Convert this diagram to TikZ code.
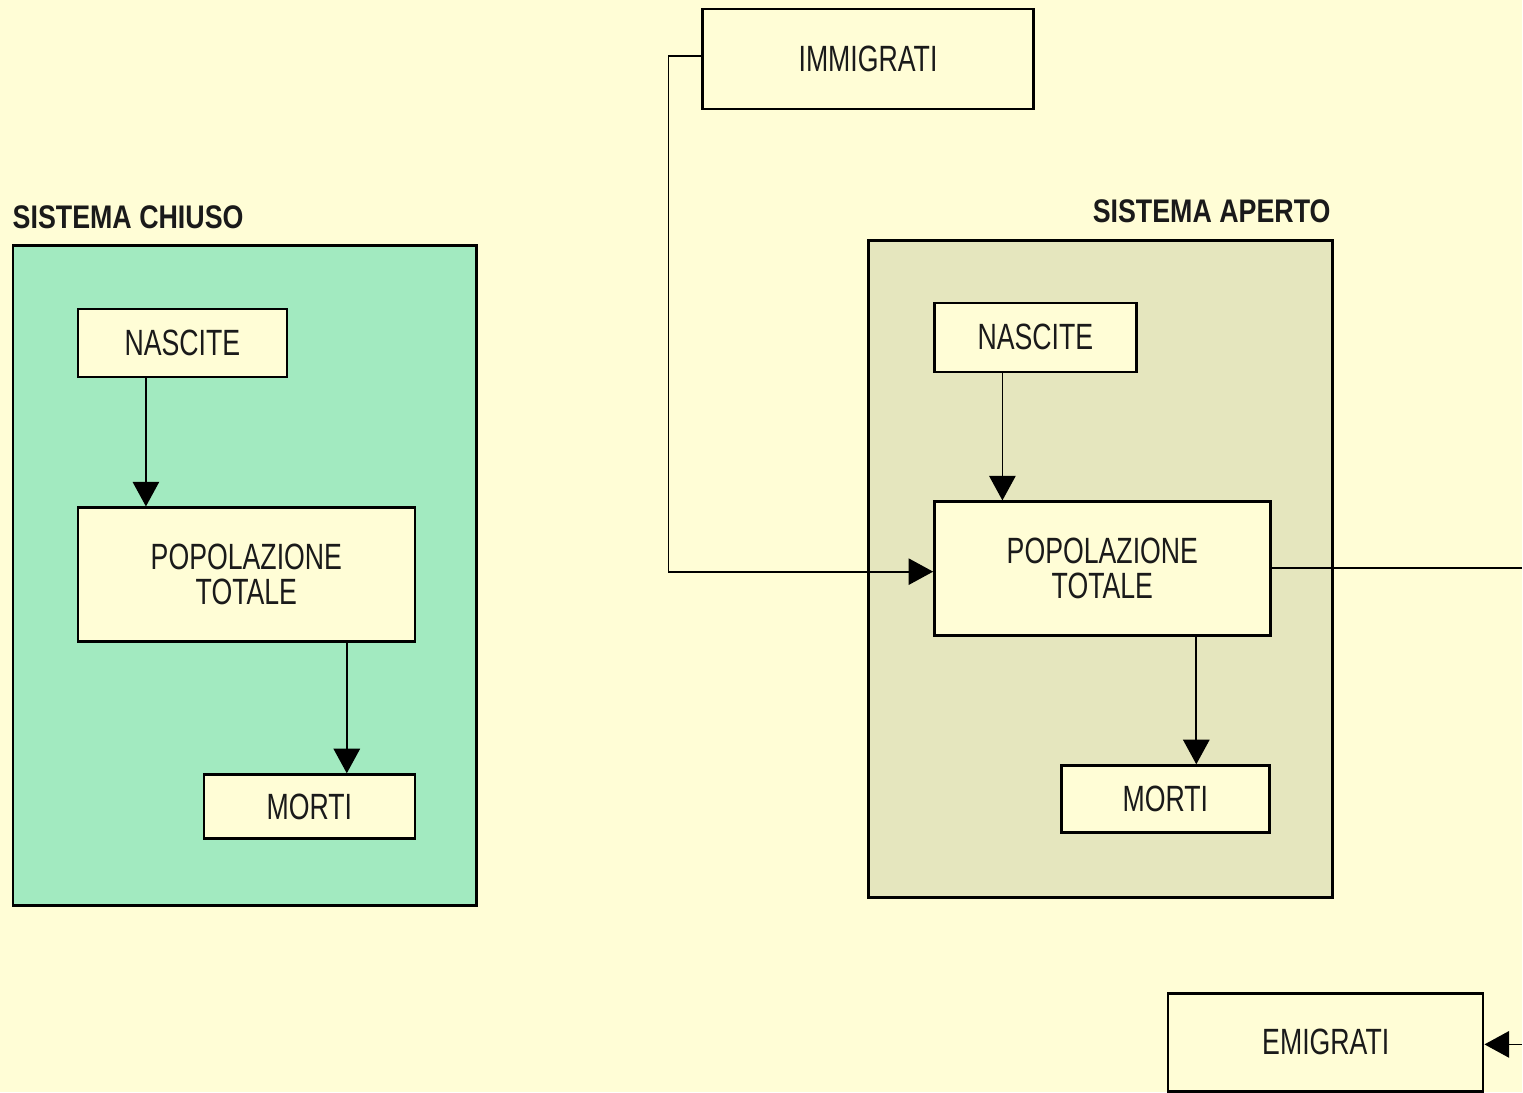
\documentclass[tikz,border=0pt]{standalone}
\usepackage{fontspec}
\usetikzlibrary{arrows.meta,positioning}
\newfontfamily\labelfont[FakeStretch=0.73]{Liberation Sans}
\newfontfamily\headfont[FakeStretch=0.82]{Liberation Sans}
\definecolor{paper}{RGB}{255,253,214}
\definecolor{closedfill}{RGB}{162,234,192}
\definecolor{openfill}{RGB}{229,230,190}
\definecolor{ink}{RGB}{26,26,26}

\begin{document}
\begin{tikzpicture}[x=0.01cm, y=-0.01cm]
\tikzstyle{block}=[rectangle, draw=black, line width=0.7pt, fill=paper, inner sep=0pt, align=center, text=ink, font=\labelfont\fontsize{10.4}{10}\selectfont]
\tikzstyle{flow}=[-{Triangle[length=7pt, width=7.5pt]}, line width=0.5pt]
\tikzstyle{panel}=[draw=black, line width=0.8pt]
\tikzstyle{head}=[inner sep=0pt, text=ink, font=\headfont\bfseries\fontsize{9.3}{10}\selectfont]
\fill[paper] (0,0) rectangle (1523,1093);

% sistema chiuso
\filldraw[panel, fill=closedfill] (13,246) rectangle (477,906);
\node[head, anchor=base west] (ClosedTitle) at (12,229) {SISTEMA CHIUSO};
\node[block, minimum width=2.09cm, minimum height=0.68cm] (BirthC) at (182.5,343) {NASCITE};
\node[block, minimum width=3.37cm, minimum height=1.34cm] (PopC) at (246.5,575) {POPOLAZIONE\\TOTALE};
\node[block, minimum width=2.11cm, minimum height=0.64cm] (DeathC) at (309.5,807) {MORTI};
\draw[flow] (BirthC.south -| 146,0) -- (PopC.north -| 146,0);
\draw[flow] (PopC.south -| 347,0) -- (DeathC.north -| 347,0);

% sistema aperto
\filldraw[panel, fill=openfill] (869,241) rectangle (1333,898);
\node[head, anchor=base east] (OpenTitle) at (1332,223) {SISTEMA APERTO};
\node[block, minimum width=2.02cm, minimum height=0.69cm] (BirthO) at (1036,337.5) {NASCITE};
\node[block, minimum width=3.36cm, minimum height=1.34cm] (PopO) at (1103,569) {POPOLAZIONE\\TOTALE};
\node[block, minimum width=2.08cm, minimum height=0.67cm] (DeathO) at (1166,799.5) {MORTI};
\node[block, minimum width=3.31cm, minimum height=1.00cm] (Immig) at (868.5,59) {IMMIGRATI};
\node[block, minimum width=3.15cm, minimum height=0.98cm] (Emig) at (1326.5,1043) {EMIGRATI};
\coordinate (OutEdge) at (1523,568);
\coordinate (InEdge) at (1523,1045);
\draw[flow] (BirthO.south -| 1003,0) -- (PopO.north -| 1003,0);
\draw[flow] (PopO.south -| 1197,0) -- (DeathO.north -| 1197,0);
\draw[flow] (Immig.west |- 0,56) -| (669,572) -- (PopO.west |- 0,572);
\draw[line width=0.5pt] (PopO.east |- OutEdge) -- (OutEdge);
\draw[flow] (InEdge) -- (Emig.east |- InEdge);
\end{tikzpicture}
\end{document}
